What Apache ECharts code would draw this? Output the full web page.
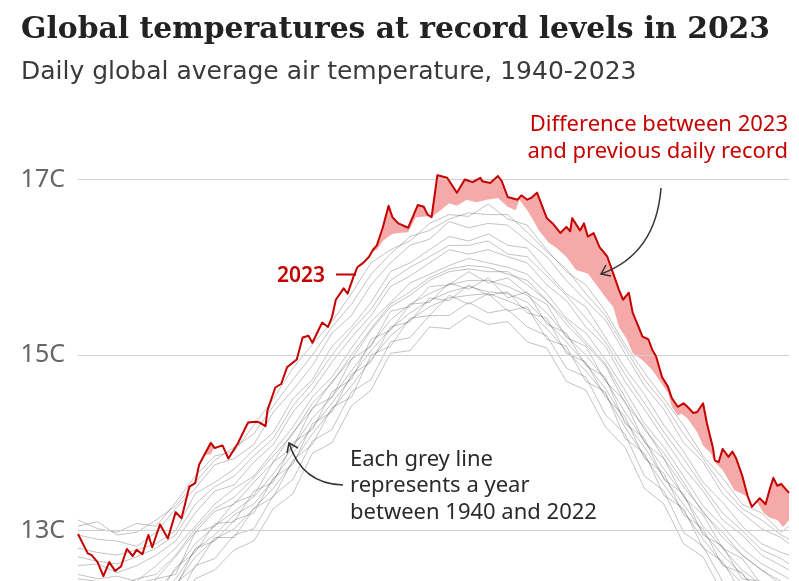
<!DOCTYPE html>
<html>
<head>
<meta charset="utf-8">
<script src="https://cdn.jsdelivr.net/npm/echarts@6/dist/echarts.min.js"></script>
<style>
  html, body { margin: 0; padding: 0; background: #fff; }
  #chart { width: 799px; height: 581px; }
</style>
</head>
<body>
<div id="chart"></div>
<script>
// 2023 daily values (day of year, deg C)
const days2023 = [1,6,8,11,14,17,20,23,26,29,31,34,37,39,43,47,51,54,58,61,63,69,71,75,78,83,88,92,94,97,98,102,105,108,113,116,119,121,126,129,131,133,137,139,142,144,147,150,152,154,157,160,162,165,170,175,178,180,182,185,186,190,195,199,203,207,208,212,216,218,221,226,228,231,233,236,241,244,248,251,253,254,258,260,262,265,268,272,275,278,280,283,285,288,290,293,295,297,300,303,305,308,311,313,316,318,321,323,326,327,329,331,334,336,338,341,344,346,350,353,355,357,359,361,365];
const temp2023 = [12.96,12.74,12.72,12.64,12.48,12.64,12.54,12.59,12.79,12.71,12.78,12.73,12.95,12.81,13.07,12.91,13.21,13.14,13.50,13.54,13.75,14.0,13.94,13.97,13.82,14.0,14.23,14.24,14.23,14.19,14.37,14.63,14.67,14.86,14.95,15.2,15.22,15.14,15.37,15.32,15.43,15.63,15.76,15.70,15.89,16.0,16.05,16.12,16.2,16.25,16.45,16.70,16.57,16.5,16.45,16.71,16.69,16.6,16.57,17.05,17.07,17.02,16.85,17.0,16.97,17.02,16.98,16.96,17.04,16.98,16.8,16.77,16.82,16.77,16.79,16.85,16.56,16.5,16.39,16.46,16.41,16.56,16.42,16.5,16.35,16.39,16.23,16.12,15.93,15.74,15.63,15.71,15.48,15.32,15.21,15.18,15.06,14.98,14.75,14.64,14.51,14.41,14.45,14.41,14.34,14.35,14.45,14.22,13.95,13.80,13.78,13.93,13.84,13.90,13.82,13.63,13.38,13.27,13.37,13.30,13.46,13.60,13.51,13.53,13.43];

// previous daily record, 1940-2022
const recordDays = [1,6,11,14,17,23,26,29,33,36,39,43,47,50,53,57,59,62,69,71,75,78,83,88,92,97,98,102,105,108,113,116,119,121,126,129,131,133,137,139,142,144,147,150,152,154,157,160,162,165,170,174,180,182,185,191,195,200,205,210,216,221,225,227,231,234,237,242,246,251,256,262,267,272,275,278,282,285,290,295,299,303,305,308,310,313,318,321,325,327,331,334,337,340,344,349,352,355,359,362,365];
const recordTemp = [13.19,13.12,13.18,13.12,13.16,13.09,13.16,13.12,13.2,13.23,13.24,13.27,13.35,13.43,13.65,13.77,13.92,13.85,13.87,13.96,14.0,13.98,14.05,14.2,14.3,14.35,14.42,14.66,14.72,14.9,14.99,15.24,15.26,15.25,15.41,15.4,15.47,15.66,15.8,15.78,15.92,16.03,16.08,16.14,16.18,16.2,16.3,16.35,16.38,16.39,16.4,16.57,16.58,16.57,16.62,16.73,16.70,16.77,16.74,16.77,16.79,16.69,16.65,16.77,16.65,16.54,16.42,16.28,16.22,16.12,15.97,15.93,15.78,15.63,15.55,15.32,15.18,15.02,14.94,14.83,14.7,14.57,14.41,14.31,14.33,14.28,14.12,13.97,13.88,13.78,13.69,13.58,13.46,13.43,13.38,13.31,13.2,13.15,13.12,13.04,13.12];

// sample of earlier years (grey), read every 10 days
const greyDays = [1,11,21,31,41,51,61,71,81,91,101,111,121,131,141,151,161,171,181,191,201,211,221,231,241,251,261,271,281,291,301,311,321,331,341,351,361,365];
const greyLines = [
  [13.12,13.02,12.98,13.08,13.05,13.32,13.62,13.85,13.9,14.2,14.5,14.85,15.12,15.38,15.7,16.05,16.2,16.3,16.5,16.6,16.58,16.72,16.55,16.48,16.2,15.95,15.8,15.5,15.12,14.8,14.5,14.2,13.85,13.6,13.3,13.2,12.98,13.05],
  [13.05,13.1,12.95,12.98,13.12,13.28,13.55,13.8,13.95,14.1,14.42,14.72,15.0,15.32,15.58,15.92,16.15,16.35,16.42,16.55,16.62,16.6,16.6,16.4,16.18,15.98,15.7,15.45,15.08,14.72,14.45,14.1,13.82,13.5,13.25,13.12,12.95,12.9],
  [12.95,12.9,12.88,12.82,12.98,13.25,13.48,13.75,13.82,13.98,14.35,14.6,14.88,15.25,15.45,15.8,16.05,16.25,16.32,16.52,16.45,16.5,16.48,16.3,16.12,15.85,15.62,15.4,15.02,14.65,14.38,14.0,13.78,13.42,13.2,13.02,12.92,12.85],
  [12.8,12.75,12.72,12.78,12.85,13.0,13.42,13.55,13.7,13.92,14.12,14.5,14.72,15.1,15.32,15.6,15.95,16.05,16.2,16.35,16.3,16.38,16.25,16.22,15.95,15.7,15.55,15.2,14.85,14.55,14.2,13.9,13.55,13.32,13.05,12.85,12.75,12.72],
  [12.7,12.65,12.62,12.7,12.8,12.95,13.3,13.5,13.62,13.85,14.05,14.42,14.68,15.0,15.28,15.52,15.85,16.0,16.12,16.25,16.25,16.3,16.15,16.12,15.9,15.68,15.42,15.15,14.78,14.45,14.12,13.82,13.5,13.2,13.0,12.78,12.68,12.62],
  [12.6,12.62,12.52,12.6,12.72,12.88,13.2,13.45,13.52,13.78,13.98,14.35,14.6,14.92,15.2,15.45,15.78,15.9,16.05,16.2,16.15,16.2,16.12,16.05,15.8,15.62,15.32,15.1,14.7,14.38,14.05,13.72,13.45,13.12,12.95,12.72,12.6,12.55],
  [12.5,12.45,12.48,12.42,12.6,12.8,13.05,13.3,13.48,13.62,13.9,14.18,14.52,14.75,15.08,15.38,15.6,15.82,15.92,16.02,16.1,16.05,16.0,15.92,15.7,15.42,15.25,14.95,14.6,14.22,13.95,13.62,13.28,13.05,12.8,12.62,12.5,12.45],
  [12.45,12.42,12.35,12.45,12.5,12.72,13.02,13.25,13.38,13.6,13.85,14.1,14.45,14.68,15.0,15.3,15.58,15.72,15.88,15.98,16.02,16.0,15.92,15.85,15.62,15.4,15.15,14.9,14.52,14.15,13.88,13.55,13.2,12.98,12.72,12.55,12.42,12.4],
  [12.42,12.38,12.3,12.4,12.45,12.7,12.98,13.22,13.3,13.55,13.78,14.12,14.38,14.7,14.95,15.28,15.55,15.68,15.85,15.95,15.98,15.95,15.95,15.8,15.62,15.35,15.12,14.88,14.45,14.18,13.82,13.5,13.22,12.92,12.72,12.55,12.38,12.35],
  [12.3,12.2,12.32,12.18,12.45,12.5,12.98,13.05,13.32,13.4,13.78,13.95,14.4,14.52,14.95,15.1,15.5,15.55,15.78,15.8,15.95,15.82,15.88,15.7,15.58,15.2,15.1,14.7,14.48,14.0,13.82,13.38,13.18,12.8,12.68,12.38,12.32,12.22],
  [12.25,12.3,12.2,12.22,12.32,12.55,12.85,13.05,13.22,13.38,13.65,13.95,14.28,14.52,14.82,15.12,15.4,15.58,15.7,15.8,15.85,15.85,15.78,15.68,15.48,15.22,15.0,14.72,14.35,14.02,13.7,13.4,13.05,12.8,12.55,12.38,12.25,12.2],
  [12.18,12.28,12.1,12.25,12.22,12.58,12.75,13.08,13.1,13.45,13.55,14.0,14.15,14.58,14.72,15.18,15.28,15.58,15.6,15.82,15.75,15.88,15.65,15.72,15.35,15.25,14.88,14.75,14.22,14.05,13.58,13.42,12.95,12.82,12.45,12.42,12.15,12.22],
  [12.2,12.15,12.2,12.12,12.25,12.45,12.78,12.95,13.18,13.3,13.58,13.88,14.18,14.45,14.75,15.05,15.3,15.48,15.62,15.72,15.78,15.72,15.7,15.6,15.38,15.15,14.9,14.62,14.25,13.95,13.6,13.3,12.98,12.72,12.5,12.3,12.15,12.12],
  [12.2,12.05,12.18,12.02,12.28,12.35,12.8,12.88,13.12,13.2,13.6,13.75,14.22,14.35,14.78,14.92,15.32,15.38,15.65,15.62,15.8,15.68,15.72,15.48,15.42,15.02,14.92,14.52,14.3,13.82,13.65,13.18,13.02,12.6,12.52,12.2,12.18,12.05],
  [12.1,12.08,12.05,12.1,12.15,12.38,12.7,12.9,13.02,13.25,13.48,13.78,14.1,14.38,14.65,14.95,15.22,15.4,15.55,15.65,15.68,15.7,15.62,15.52,15.3,15.05,14.82,14.55,14.18,13.85,13.52,13.22,12.9,12.62,12.4,12.25,12.1,12.05],
  [12.0,12.1,11.95,12.12,12.05,12.4,12.58,12.92,12.92,13.25,13.38,13.8,13.98,14.4,14.52,15.0,15.1,15.42,15.45,15.68,15.58,15.7,15.5,15.55,15.18,15.1,14.7,14.58,14.05,13.88,13.4,13.25,12.8,12.65,12.28,12.25,12.0,12.05],
  [11.98,11.88,11.95,11.9,12.05,12.18,12.6,12.68,12.95,13.02,13.4,13.58,14.02,14.15,14.58,14.72,15.15,15.2,15.45,15.45,15.6,15.48,15.52,15.32,15.22,14.85,14.75,14.32,14.1,13.62,13.45,12.98,12.82,12.42,12.32,12.02,12.0,11.88],
  [11.82,11.75,11.8,11.75,11.92,12.05,12.45,12.55,12.78,12.88,13.25,13.42,13.88,14.0,14.42,14.6,15.02,15.05,15.32,15.3,15.45,15.35,15.38,15.15,15.08,14.7,14.6,14.18,13.95,13.48,13.3,12.85,12.7,12.28,12.18,11.9,11.88,11.75]
];

const gridValues = [13, 15, 17];

const RED = '#c50000';
const FONT = 'Noto Sans';

const chart = echarts.init(document.getElementById('chart'));

const pair = (ds, vs) => ds.map((d, i) => [d, vs[i]]);

const series = [
  {
    // pink fill under 2023, masked below the record by the white area
    name: 'fill2023',
    type: 'line',
    z: 1,
    silent: true,
    symbol: 'none',
    lineStyle: { width: 0 },
    areaStyle: { color: '#f5a9a9', opacity: 1, origin: 'start' },
    data: pair(days2023, temp2023)
  },
  {
    name: 'record',
    type: 'line',
    z: 2,
    silent: true,
    symbol: 'none',
    lineStyle: { width: 0 },
    areaStyle: { color: '#ffffff', opacity: 1, origin: 'start' },
    data: pair(recordDays, recordTemp)
  },
  {
    name: 'grid',
    type: 'line',
    z: 3,
    silent: true,
    data: [],
    markLine: {
      silent: true,
      symbol: 'none',
      label: { show: false },
      lineStyle: { color: '#cfcfcf', width: 1, type: 'solid' },
      data: gridValues.map(v => ({ yAxis: v }))
    }
  }
];

greyLines.forEach((vals, k) => {
  series.push({
    name: 'year' + k,
    type: 'line',
    z: 4,
    silent: true,
    symbol: 'none',
    lineStyle: { color: 'rgba(80,80,80,0.34)', width: 1 },
    data: pair(greyDays, vals)
  });
});

series.push({
  name: '2023',
  type: 'line',
  z: 5,
  silent: true,
  symbol: 'none',
  lineStyle: { color: RED, width: 2, join: 'round' },
  data: pair(days2023, temp2023)
});

chart.setOption({
  animation: false,
  backgroundColor: '#fff',
  title: {
    text: 'Global temperatures at record levels in 2023',
    subtext: 'Daily global average air temperature, 1940-2023',
    left: 16,
    top: 10,
    itemGap: 15,
    textStyle: { fontFamily: 'DejaVu Serif', fontWeight: 'bold', fontSize: 29.8, color: '#222' },
    subtextStyle: { fontFamily: 'DejaVu Sans', fontSize: 25, color: '#3a3a3a' }
  },
  grid: { left: 78, right: 10, top: 4, bottom: 0 },
  xAxis: { type: 'value', min: 1, max: 365, show: false },
  yAxis: {
    type: 'value',
    min: 12.425,
    max: 19,
    axisLine: { show: false },
    axisTick: { show: false },
    splitLine: { show: false },
    axisLabel: {
      customValues: gridValues,
      margin: 13,
      fontFamily: FONT,
      fontSize: 25,
      color: '#666',
      formatter: v => v + 'C'
    }
  },
  series: series,
  graphic: [
    {
      type: 'text', x: 788, y: 111, z: 10,
      style: {
        text: 'Difference between 2023\nand previous daily record',
        font: '22px "Noto Sans"', fill: RED, align: 'right', lineHeight: 27
      }
    },
    {
      type: 'bezierCurve', z: 10,
      shape: { x1: 661, y1: 188, cpx1: 656, cpy1: 254, x2: 601, y2: 274 },
      style: { stroke: '#333', lineWidth: 1.5, fill: null }
    },
    {
      type: 'polyline', z: 10,
      shape: { points: [[606, 265], [601, 274], [611, 276]] },
      style: { stroke: '#333', lineWidth: 1.5, fill: null }
    },
    {
      type: 'text', x: 277, y: 276, z: 10,
      style: { text: '2023', font: '600 21px "Noto Sans"', fill: RED, verticalAlign: 'middle' }
    },
    {
      type: 'line', z: 10,
      shape: { x1: 336, y1: 274.5, x2: 356, y2: 274.5 },
      style: { stroke: RED, lineWidth: 2 }
    },
    {
      type: 'text', x: 350, y: 446, z: 10,
      style: {
        text: 'Each grey line\nrepresents a year\nbetween 1940 and 2022',
        font: '22px "Noto Sans"', fill: '#2a2a2a', lineHeight: 26.7
      }
    },
    {
      type: 'bezierCurve', z: 10,
      shape: { x1: 343, y1: 485, cpx1: 302, cpy1: 484, x2: 289, y2: 443 },
      style: { stroke: '#333', lineWidth: 1.5, fill: null }
    },
    {
      type: 'polyline', z: 10,
      shape: { points: [[287, 453], [289, 443], [298, 448]] },
      style: { stroke: '#333', lineWidth: 1.5, fill: null }
    }
  ]
});
</script>
</body>
</html>
